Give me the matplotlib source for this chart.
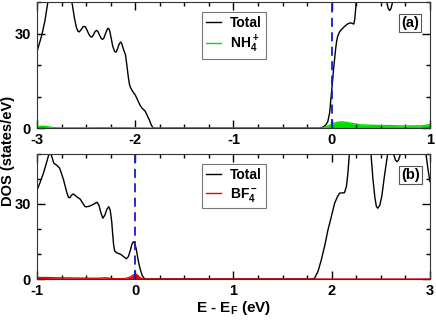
import matplotlib.pyplot as plt
from matplotlib.ticker import MultipleLocator

plt.rcParams['font.family'] = ['Liberation Sans', 'DejaVu Sans']
plt.rcParams['font.weight'] = 'bold'
plt.rcParams['axes.labelweight'] = 'bold'
plt.rcParams['axes.unicode_minus'] = False
plt.rcParams['mathtext.fontset'] = 'custom'
plt.rcParams['mathtext.rm'] = 'Liberation Sans:bold'
plt.rcParams['mathtext.bf'] = 'Liberation Sans:bold'
plt.rcParams['mathtext.default'] = 'bf'

# ---- panel (a): NH4+ ----
e_a = [-3.00, -2.97, -2.95, -2.92, -2.89, -2.86, -2.80, -2.72, -2.66, -2.64,
       -2.62, -2.60, -2.585, -2.57, -2.55, -2.53, -2.51, -2.49, -2.47, -2.455,
       -2.44, -2.425, -2.41, -2.395, -2.38, -2.365, -2.35, -2.335, -2.32, -2.305,
       -2.29, -2.28, -2.27, -2.26, -2.245, -2.23, -2.21, -2.195, -2.18, -2.165,
       -2.15, -2.14, -2.13, -2.115, -2.10, -2.09, -2.08, -2.07, -2.06, -2.05,
       -2.03, -2.00, -1.97, -1.95, -1.93, -1.90, -1.88, -1.86, -1.84, -1.82,
       -1.80, -0.12, -0.09, -0.06, -0.04, -0.02, -0.01, 0.00, 0.01, 0.02,
       0.03, 0.04, 0.05, 0.06, 0.08, 0.10, 0.13, 0.16, 0.19, 0.21,
       0.225, 0.235, 0.25, 0.27, 0.40, 0.54, 0.56, 0.575, 0.59, 0.605,
       0.62, 0.64, 0.80, 1.00]
tot_a = [24.4, 27.5, 29.7, 34.0, 40.0, 46.0, 55.0, 52.0, 42.0, 39.0,
         35.0, 32.0, 30.8, 30.5, 31.3, 32.2, 32.2, 31.0, 29.6, 29.0,
         28.9, 29.6, 30.6, 31.0, 30.6, 29.6, 28.6, 28.1, 28.5, 29.8,
         31.0, 31.6, 31.6, 30.8, 28.5, 26.0, 24.3, 24.1, 25.2, 26.6,
         27.3, 27.0, 26.0, 24.5, 23.3, 21.0, 18.5, 16.0, 14.0, 13.0,
         11.8, 10.5, 8.5, 7.2, 6.3, 5.4, 4.1, 2.8, 1.2, 0.1,
         0.0, 0.0, 0.3, 1.0, 2.0, 5.0, 8.5, 12.0, 15.3, 19.0,
         22.0, 25.0, 27.5, 29.0, 30.5, 31.3, 32.2, 33.0, 33.4, 33.2,
         33.0, 34.5, 40.0, 46.0, 55.0, 45.0, 40.0, 38.0, 37.3, 38.0,
         40.0, 45.0, 55.0, 55.0]
e_nh4 = [-3.00, -2.95, -2.90, -2.85, -2.80, -2.50, -2.20, -1.90, -1.80, -0.10,
         -0.05, 0.00, 0.05, 0.10, 0.15, 0.20, 0.25, 0.30, 0.40, 0.50,
         0.60, 0.70, 0.80, 0.90, 0.95, 1.00]
pdos_nh4 = [0.4, 0.6, 0.5, 0.2, 0.1, 0.1, 0.15, 0.05, 0.0, 0.0,
            0.5, 1.2, 1.8, 2.0, 1.8, 1.5, 1.3, 1.0, 0.9, 0.8,
            0.8, 0.7, 0.7, 0.7, 0.8, 1.2]

# ---- panel (b): BF4- ----
e_b = [-1.00, -0.97, -0.935, -0.90, -0.88, -0.865, -0.85, -0.83, -0.80, -0.77,
       -0.75, -0.73, -0.70, -0.68, -0.665, -0.65, -0.63, -0.60, -0.56, -0.53,
       -0.51, -0.49, -0.46, -0.42, -0.39, -0.37, -0.35, -0.33, -0.31, -0.29,
       -0.27, -0.255, -0.24, -0.23, -0.22, -0.21, -0.19, -0.17, -0.15, -0.12,
       -0.09, -0.07, -0.05, -0.035, -0.02, -0.005, 0.01, 0.025, 0.04, 0.055,
       0.07, 0.09, 0.11, 1.80, 1.826, 1.86, 1.894, 1.93, 1.962, 2.00,
       2.03, 2.06, 2.08, 2.10, 2.13, 2.15, 2.165, 2.18, 2.20, 2.35,
       2.40, 2.42, 2.44, 2.455, 2.47, 2.49, 2.51, 2.54, 2.57, 2.60,
       2.63, 2.65, 2.665, 2.68, 2.70, 2.72, 2.93, 2.96, 2.98, 3.00]
tot_b = [35.6, 38.5, 42.3, 47.0, 49.8, 50.3, 49.0, 46.3, 45.5, 44.3,
         42.0, 39.6, 35.0, 32.6, 32.5, 33.5, 34.0, 33.0, 31.9, 30.0,
         28.9, 28.9, 29.2, 30.0, 30.7, 29.5, 26.5, 24.3, 25.5, 27.8,
         28.9, 27.5, 23.0, 18.0, 13.5, 11.2, 10.5, 10.2, 9.9, 9.0,
         8.1, 9.0, 11.5, 13.8, 14.9, 14.3, 12.0, 8.5, 5.5, 3.3,
         1.5, 0.3, 0.0, 0.0, 0.3, 3.0, 7.6, 13.5, 19.6, 25.5,
         30.3, 33.0, 34.3, 34.4, 34.5, 37.0, 42.3, 50.0, 56.0, 56.0,
         50.0, 40.0, 32.5, 29.0, 28.3, 29.5, 33.0, 42.0, 50.0, 54.0,
         50.0, 47.5, 46.9, 47.5, 50.0, 55.0, 55.0, 50.0, 44.0, 39.0]
e_bf4 = [-1.00, -0.90, -0.80, -0.60, -0.40, -0.30, -0.25, -0.20, -0.10, -0.05,
         -0.02, 0.00, 0.02, 0.05, 0.08, 0.10, 3.00]
pdos_bf4 = [0.6, 0.6, 0.5, 0.4, 0.3, 0.5, 0.3, 0.1, 0.2, 0.8,
            1.6, 2.0, 1.6, 0.5, 0.1, 0.0, 0.0]

fig = plt.figure(figsize=(4.36, 3.31), dpi=100)
ax1 = fig.add_axes([0.085, 0.613, 0.901, 0.381])
ax2 = fig.add_axes([0.085, 0.157, 0.901, 0.378])

panels = [
    (ax1, e_a, tot_a, e_nh4, pdos_nh4, '#00dd00', 'NH$_4^+$', (-3, 1), 40, '(a)'),
    (ax2, e_b, tot_b, e_bf4, pdos_bf4, '#ee0000', 'BF$_4^-$', (-1, 3), 50, '(b)'),
]

for ax, e, tot, ep, pd, col, lab, xl, ytop, tag in panels:
    ax.plot(e, tot, color='black', lw=1.0, label='Total')
    ax.plot(ep, pd, color=col, lw=1.0, label=lab)
    ax.fill_between(ep, 0, pd, color=col, lw=0)
    ax.axvline(0, color='#1a1acc', lw=1.3, ls=(0, (5, 3)))
    ax.set_xlim(*xl)
    ax.set_ylim(0, ytop)
    ax.xaxis.set_major_locator(MultipleLocator(1))
    ax.xaxis.set_minor_locator(MultipleLocator(0.25))
    ax.yaxis.set_major_locator(MultipleLocator(30))
    ax.yaxis.set_minor_locator(MultipleLocator(10))
    ax.tick_params(which='both', direction='in', top=True, right=True,
                   labelsize=10.5)
    ax.tick_params(axis='x', pad=3.5)
    ax.tick_params(axis='y', pad=4.5)
    ax.tick_params(which='major', length=6, width=1.0)
    ax.tick_params(which='minor', length=3, width=1.0)
    for s in ax.spines.values():
        s.set_color('#333333')
    leg = ax.legend(loc='upper left', bbox_to_anchor=(0.42, 0.92),
                    frameon=True, fancybox=False, edgecolor='#555555',
                    fontsize=10, handlelength=1.1, handletextpad=0.6,
                    borderpad=0.3, labelspacing=0.25, borderaxespad=0)
    leg.get_frame().set_linewidth(0.8)
    ax.text(0.95, 0.833, tag, transform=ax.transAxes, fontsize=10.5,
            ha='center', va='center',
            bbox=dict(boxstyle='square,pad=0.15', fc='white', ec='#555555', lw=0.8))

fig.text(0.018, 0.545, 'DOS (states/eV)', rotation=90, ha='center', va='center',
         fontsize=10.5, fontweight='bold')
ax2.set_xlabel('E - E$_F$ (eV)', fontsize=11, fontweight='bold', labelpad=1)

fig.savefig('out.png', dpi=100)
